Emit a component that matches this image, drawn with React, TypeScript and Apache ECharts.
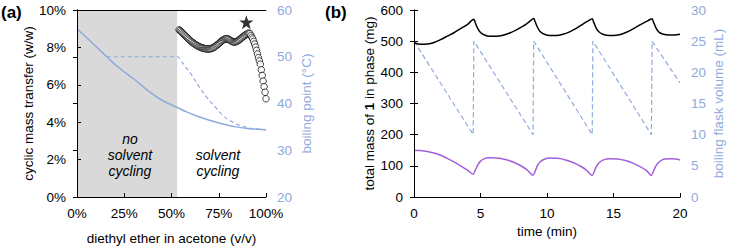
import React, { useEffect, useRef } from "react";
import * as echarts from "echarts";

// ---------- Panel (a) data ----------
const shadeRange = [0, 53];
const massTransfer: [number, number][] = [
  [54, 8.94], [54.5, 8.9], [55, 8.85], [55.5, 8.8], [56, 8.75], [56.5, 8.7], [57, 8.65], [57.5, 8.6],
  [58, 8.55], [58.5, 8.5], [59, 8.45], [59.5, 8.4], [60, 8.35], [60.5, 8.31], [61, 8.27], [61.5, 8.23],
  [62, 8.2], [62.5, 8.16], [63, 8.13], [63.5, 8.1], [64, 8.07], [64.5, 8.04], [65, 8.02], [65.5, 8.0],
  [66, 7.98], [66.5, 7.96], [67, 7.95], [67.5, 7.94], [68, 7.93], [68.5, 7.92], [69, 7.92], [69.5, 7.92],
  [70, 7.92], [70.5, 7.93], [71, 7.94], [71.5, 7.96], [72, 7.98], [72.5, 8.01], [73, 8.04], [73.5, 8.08],
  [74, 8.12], [74.5, 8.16], [75, 8.2], [75.5, 8.25], [76, 8.3], [76.5, 8.34], [77, 8.38], [77.5, 8.41],
  [78, 8.44], [78.5, 8.45], [79, 8.46], [79.5, 8.45], [80, 8.44], [80.5, 8.41], [81, 8.38], [81.5, 8.35],
  [82, 8.32], [82.5, 8.3], [83, 8.29], [83.5, 8.29], [84, 8.3], [84.5, 8.32], [85, 8.35], [85.5, 8.38],
  [86, 8.42], [86.5, 8.46], [87, 8.5], [87.5, 8.54], [88, 8.58], [88.5, 8.62], [89, 8.66], [89.5, 8.69],
  [90, 8.72], [90.5, 8.75], [91, 8.76], [91.5, 8.73], [92, 8.64], [92.5, 8.54], [93, 8.45], [93.5, 8.32],
  [94, 8.18], [94.5, 8.02], [95, 7.84], [95.5, 7.65], [96, 7.45], [96.5, 7.28], [97, 7.1], [97.5, 6.8],
  [98, 6.5], [98.5, 6.2], [99, 5.9], [99.5, 5.6], [100, 5.25],
];
const starPoint: [number, number][] = [[89.6, 9.35]];
const boilingPoint: [number, number][] = [
  [0, 56], [8, 53], [15.8, 50], [22, 47.7], [29.9, 45.3], [38.7, 42.4], [45, 40.7], [52.8, 39.2],
  [58, 38.2], [65, 37.1], [71, 36.3], [77.4, 35.6], [84, 35], [91.5, 34.6], [100, 34.4],
];
const cyclingTemp: [number, number][] = [
  [15.8, 50], [53, 50], [55, 49.2], [57, 48], [60, 46.5], [64, 44], [68.7, 41.3], [73, 39.3],
  [77.4, 37.4], [82, 36.1], [87, 35.2], [92, 34.7], [96, 34.5], [100, 34.4],
];

// ---------- Panel (b) data ----------
const totalMass: [number, number][] = [
  [0, 495], [0.5, 490], [1, 491], [1.5, 496], [2, 505], [2.5, 516], [3, 527], [3.5, 540], [4, 553],
  [4.5, 570], [4.6, 560], [4.8, 540], [5.0, 528], [5.3, 520], [5.7, 516], [6.2, 516], [6.7, 519],
  [7.2, 526], [7.7, 536], [8.2, 548], [8.6, 560], [9.0, 573], [9.1, 563], [9.3, 543], [9.5, 530],
  [9.8, 522], [10.2, 518], [10.7, 518], [11.2, 522], [11.7, 530], [12.2, 541], [12.7, 555],
  [13.1, 565], [13.4, 572], [13.5, 562], [13.7, 542], [13.9, 530], [14.2, 522], [14.7, 518],
  [15.2, 519], [15.7, 524], [16.2, 533], [16.7, 545], [17.2, 557], [17.6, 566], [17.9, 572],
  [18.0, 562], [18.2, 542], [18.4, 530], [18.7, 523], [19.2, 520], [19.6, 520], [20, 522],
];
const phaseMass: [number, number][] = [
  [0, 150], [0.5, 149], [1, 146], [1.5, 141], [2, 134], [2.5, 124], [3, 113], [3.5, 100], [4, 87],
  [4.45, 73], [4.6, 85], [4.8, 103], [5.0, 115], [5.3, 123], [5.6, 126], [6.2, 125], [6.8, 121],
  [7.4, 113], [8.0, 101], [8.5, 87], [8.95, 70], [9.1, 82], [9.3, 102], [9.5, 113], [9.8, 121],
  [10.2, 125], [10.8, 124], [11.4, 119], [12.0, 110], [12.6, 97], [13.0, 85], [13.4, 69],
  [13.55, 82], [13.75, 101], [14.0, 113], [14.3, 120], [14.7, 123], [15.3, 122], [15.9, 117],
  [16.5, 108], [17.1, 95], [17.5, 84], [17.85, 69], [18.0, 82], [18.2, 101], [18.45, 113],
  [18.8, 122], [19.3, 123], [19.7, 122], [20, 119],
];
const flaskVolume: [number, number][] = [
  [0, 25], [4.45, 10], [4.5, 25], [8.95, 10], [9.0, 25], [13.4, 10], [13.45, 25], [17.85, 10],
  [17.9, 25], [20, 18.3],
];

const leftTicksA = { min: 0, max: 10, interval: 2 };
const rightTicksA = { min: 20, max: 60, interval: 10 };
const xTicksA = { min: 0, max: 100, interval: 25 };
const leftTicksB = { min: 0, max: 600, interval: 100 };
const rightTicksB = { min: 0, max: 30, interval: 5 };
const xTicksB = { min: 0, max: 20, interval: 5 };

const FONT = "'Liberation Sans', Arial, sans-serif";
const BLUE = "#8FAADC";
const PURPLE = "#A35FD8";
const STAR =
  "path://M0,-10L2.35,-3.24L9.51,-3.09L3.8,1.24L5.88,8.09L0,4L-5.88,8.09L-3.8,1.24L-9.51,-3.09L-2.35,-3.24Z";

export default function App() {
  const ref = useRef<HTMLDivElement>(null);
  useEffect(() => {
    document.body.style.margin = "0";
    if (!ref.current) return;
    const chart = echarts.init(ref.current, undefined, { renderer: "svg" });
    const FS = 13.5;
    const lbl = { color: "#000", fontSize: FS, fontFamily: FONT };
    const axisLine = { show: true, lineStyle: { color: "#000", width: 1 } };
    const tick = { show: true, inside: true, length: 4, lineStyle: { color: "#000" } };
    const nameStyle = { color: "#000", fontSize: FS, fontFamily: FONT };
    const topAxis = (gridIndex: number, r: { min: number; max: number }) => ({
      type: "value",
      gridIndex,
      position: "top",
      min: r.min,
      max: r.max,
      axisLine,
      axisTick: { show: false },
      axisLabel: { show: false },
      splitLine: { show: false },
      z: 10,
    });
    chart.setOption({
      animation: false,
      textStyle: { fontFamily: FONT },
      grid: [
        { left: 77, top: 10, width: 189, height: 187 },
        { left: 414, top: 10, width: 266, height: 187 },
      ],
      xAxis: [
        {
          type: "value",
          gridIndex: 0,
          ...xTicksA,
          axisLine,
          axisTick: tick,
          axisLabel: { ...lbl, margin: 9, formatter: "{value}%" },
          splitLine: { show: false },
          name: "diethyl ether in acetone (v/v)",
          nameLocation: "middle",
          nameGap: 34,
          nameTextStyle: nameStyle,
          z: 10,
        },
        topAxis(0, xTicksA),
        {
          type: "value",
          gridIndex: 1,
          ...xTicksB,
          axisLine,
          axisTick: tick,
          axisLabel: { ...lbl, margin: 9 },
          splitLine: { show: false },
          name: "time (min)",
          nameLocation: "middle",
          nameGap: 26,
          nameTextStyle: nameStyle,
          z: 10,
        },
        topAxis(1, xTicksB),
      ],
      yAxis: [
        {
          type: "value",
          gridIndex: 0,
          ...leftTicksA,
          axisLine,
          axisTick: tick,
          axisLabel: { ...lbl, margin: 11, formatter: "{value}%" },
          splitLine: { show: false },
          name: "cyclic mass transfer (w/w)",
          nameLocation: "middle",
          nameGap: 36,
          nameTextStyle: nameStyle,
          z: 10,
        },
        {
          type: "value",
          gridIndex: 0,
          position: "right",
          ...rightTicksA,
          axisLine,
          axisTick: tick,
          axisLabel: { ...lbl, color: BLUE, margin: 11 },
          splitLine: { show: false },
          name: "boiling point (°C)",
          nameLocation: "middle",
          nameGap: 33,
          nameTextStyle: { ...nameStyle, color: BLUE },
          z: 10,
        },
        {
          type: "value",
          gridIndex: 1,
          ...leftTicksB,
          axisLine,
          axisTick: tick,
          axisLabel: { ...lbl, margin: 11 },
          splitLine: { show: false },
          name: "total mass of {b|1} in phase (mg)",
          nameLocation: "middle",
          nameGap: 31,
          nameTextStyle: {
            ...nameStyle,
            rich: { b: { fontWeight: "bold", fontSize: FS, fontFamily: FONT, color: "#000" } },
          },
          z: 10,
        },
        {
          type: "value",
          gridIndex: 1,
          position: "right",
          ...rightTicksB,
          axisLine,
          axisTick: tick,
          axisLabel: { ...lbl, color: BLUE, margin: 11 },
          splitLine: { show: false },
          name: "boiling flask volume (mL)",
          nameLocation: "middle",
          nameGap: 31,
          nameTextStyle: { ...nameStyle, color: BLUE },
          z: 10,
        },
      ],
      series: [
        {
          type: "line",
          xAxisIndex: 0,
          yAxisIndex: 0,
          data: [],
          z: 1,
          markArea: {
            silent: true,
            itemStyle: { color: "#D9D9D9" },
            data: [[{ xAxis: shadeRange[0] }, { xAxis: shadeRange[1] }]],
          },
        },
        {
          type: "line",
          xAxisIndex: 0,
          yAxisIndex: 1,
          data: boilingPoint,
          smooth: true,
          symbol: "none",
          lineStyle: { color: BLUE, width: 1.5 },
          z: 3,
        },
        {
          type: "line",
          xAxisIndex: 0,
          yAxisIndex: 1,
          data: cyclingTemp,
          smooth: true,
          symbol: "none",
          lineStyle: { color: BLUE, width: 1.2, type: [4, 3] },
          z: 3,
        },
        {
          type: "scatter",
          xAxisIndex: 0,
          yAxisIndex: 0,
          data: massTransfer,
          symbol: "circle",
          symbolSize: 6.5,
          itemStyle: { color: "#fff", borderColor: "#000", borderWidth: 0.9 },
          z: 4,
        },
        {
          type: "scatter",
          xAxisIndex: 0,
          yAxisIndex: 0,
          data: starPoint,
          symbol: STAR,
          symbolSize: 14,
          itemStyle: { color: "#000" },
          z: 5,
        },
        {
          type: "line",
          xAxisIndex: 2,
          yAxisIndex: 3,
          data: flaskVolume,
          symbol: "none",
          lineStyle: { color: BLUE, width: 1.2, type: [5, 3] },
          z: 3,
        },
        {
          type: "line",
          xAxisIndex: 2,
          yAxisIndex: 2,
          data: totalMass,
          smooth: 0.3,
          symbol: "none",
          lineStyle: { color: "#000", width: 1.5 },
          z: 4,
        },
        {
          type: "line",
          xAxisIndex: 2,
          yAxisIndex: 2,
          data: phaseMass,
          smooth: 0.3,
          symbol: "none",
          lineStyle: { color: PURPLE, width: 1.5 },
          z: 4,
        },
      ],
      graphic: [
        {
          type: "text",
          left: 1,
          top: 4,
          style: { text: "(a)", font: `bold 17px ${FONT}`, fill: "#000" },
        },
        {
          type: "text",
          left: 325,
          top: 4,
          style: { text: "(b)", font: `bold 17px ${FONT}`, fill: "#000" },
        },
        {
          type: "text",
          x: 130,
          y: 155,
          style: {
            text: "no\nsolvent\ncycling",
            font: `italic 14px ${FONT}`,
            fill: "#000",
            align: "center",
            verticalAlign: "middle",
            lineHeight: 16,
          },
          z: 20,
        },
        {
          type: "text",
          x: 218,
          y: 163,
          style: {
            text: "solvent\ncycling",
            font: `italic 14px ${FONT}`,
            fill: "#000",
            align: "center",
            verticalAlign: "middle",
            lineHeight: 16,
          },
          z: 20,
        },
      ],
    });
    return () => chart.dispose();
  }, []);
  return <div ref={ref} style={{ width: 729, height: 250 }} />;
}
